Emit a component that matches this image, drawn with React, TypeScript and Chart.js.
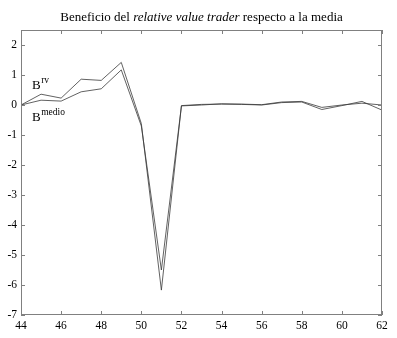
import React, { useEffect, useRef } from "react";
import { Chart, registerables } from "chart.js";

Chart.register(...registerables);

const xValues = [44, 45, 46, 47, 48, 49, 50, 51, 52, 53, 54, 55, 56, 57, 58, 59, 60, 61, 62];
const rvValues = [0, 0.36, 0.23, 0.86, 0.82, 1.42, -0.62, -6.17, -0.02, 0.02, 0.03, 0.02, 0.0, 0.08, 0.1, -0.15, -0.02, 0.12, -0.17];
const medioValues = [0, 0.16, 0.13, 0.44, 0.54, 1.17, -0.7, -5.5, -0.03, 0.0, 0.04, 0.03, 0.01, 0.1, 0.12, -0.08, 0.0, 0.06, 0.0];
const yTickValues = [-7, -6, -5, -4, -3, -2, -1, 0, 1, 2];
const xTickValues = [44, 46, 48, 50, 52, 54, 56, 58, 60, 62];
const titleText = "Beneficio del ";
const titleItalic = "relative value trader";
const titleEnd = " respecto a la media";

const SERIF = "'Liberation Serif', 'DejaVu Serif', serif";

const framePlugin = {
  id: "framePlugin",
  afterDatasetsDraw(chart: any) {
    const { ctx, chartArea: a, scales } = chart;
    const xs = scales.x;
    const ys = scales.y;
    ctx.save();
    ctx.strokeStyle = "#808080";
    ctx.lineWidth = 1;
    ctx.strokeRect(a.left + 0.5, a.top + 0.5, a.right - a.left - 1, a.bottom - a.top - 1);
    const tl = 4;
    ctx.beginPath();
    xTickValues.forEach((v) => {
      const px = Math.round(xs.getPixelForValue(v)) + 0.5;
      ctx.moveTo(px, a.bottom);
      ctx.lineTo(px, a.bottom - tl);
      ctx.moveTo(px, a.top);
      ctx.lineTo(px, a.top + tl);
    });
    yTickValues.forEach((v) => {
      const py = Math.round(ys.getPixelForValue(v)) + 0.5;
      ctx.moveTo(a.left, py);
      ctx.lineTo(a.left + tl, py);
      ctx.moveTo(a.right, py);
      ctx.lineTo(a.right - tl, py);
    });
    ctx.stroke();

    // series labels
    ctx.fillStyle = "#000";
    ctx.textBaseline = "alphabetic";
    ctx.textAlign = "left";
    const drawLabel = (xv: number, yv: number, sup: string) => {
      const px = xs.getPixelForValue(xv);
      const py = ys.getPixelForValue(yv);
      ctx.font = `13px ${SERIF}`;
      ctx.fillText("B", px, py);
      const w = ctx.measureText("B").width;
      ctx.font = `9.5px ${SERIF}`;
      ctx.fillText(sup, px + w + 0.5, py - 6);
    };
    drawLabel(44.55, 0.53, "rv");
    drawLabel(44.55, -0.53, "medio");

    // title
    const parts = [
      { t: titleText, f: `13px ${SERIF}` },
      { t: titleItalic, f: `italic 13px ${SERIF}` },
      { t: titleEnd, f: `13px ${SERIF}` },
    ];
    let total = 0;
    parts.forEach((p) => {
      ctx.font = p.f;
      total += ctx.measureText(p.t).width;
    });
    let x0 = (a.left + a.right) / 2 - total / 2;
    parts.forEach((p) => {
      ctx.font = p.f;
      ctx.fillText(p.t, x0, 21);
      x0 += ctx.measureText(p.t).width;
    });
    ctx.restore();
  },
};

export default function App() {
  const ref = useRef<HTMLCanvasElement | null>(null);
  useEffect(() => {
    if (!ref.current) return;
    const chart = new Chart(ref.current, {
      type: "line",
      data: {
        datasets: [
          {
            label: "B rv",
            data: xValues.map((x, i) => ({ x, y: rvValues[i] })),
            borderColor: "#3a3a3a",
            borderWidth: 0.8,
            pointRadius: 0,
            tension: 0,
            fill: false,
          },
          {
            label: "B medio",
            data: xValues.map((x, i) => ({ x, y: medioValues[i] })),
            borderColor: "#3a3a3a",
            borderWidth: 0.8,
            pointRadius: 0,
            tension: 0,
            fill: false,
          },
        ],
      },
      options: {
        animation: false,
        responsive: false,
        maintainAspectRatio: false,
        layout: { padding: { top: 30, right: 15, left: 0, bottom: 0 } },
        plugins: {
          legend: { display: false },
          title: { display: false },
          tooltip: { enabled: false },
        },
        scales: {
          x: {
            type: "linear",
            min: 44,
            max: 62,
            grid: { display: false, drawTicks: false },
            border: { display: false },
            afterFit: (s: any) => {
              s.height = 23;
            },
            afterBuildTicks: (s: any) => {
              s.ticks = xTickValues.map((v) => ({ value: v }));
            },
            ticks: {
              padding: 4,
              color: "#000",
              font: { family: SERIF, size: 11.5 },
              maxRotation: 0,
              autoSkip: false,
            },
          },
          y: {
            type: "linear",
            min: -7,
            max: 2.5,
            grid: { display: false, drawTicks: false },
            border: { display: false },
            afterFit: (s: any) => {
              s.width = 21;
            },
            afterBuildTicks: (s: any) => {
              s.ticks = yTickValues.map((v) => ({ value: v }));
            },
            ticks: {
              padding: 4,
              color: "#000",
              font: { family: SERIF, size: 11.5 },
              autoSkip: false,
            },
          },
        },
      },
      plugins: [framePlugin],
    });
    return () => chart.destroy();
  }, []);
  return (
    <div style={{ position: "fixed", left: 0, top: 0, width: 397, height: 338, background: "#fff" }}>
      <canvas ref={ref} width={397} height={338} style={{ width: 397, height: 338 }} />
    </div>
  );
}
